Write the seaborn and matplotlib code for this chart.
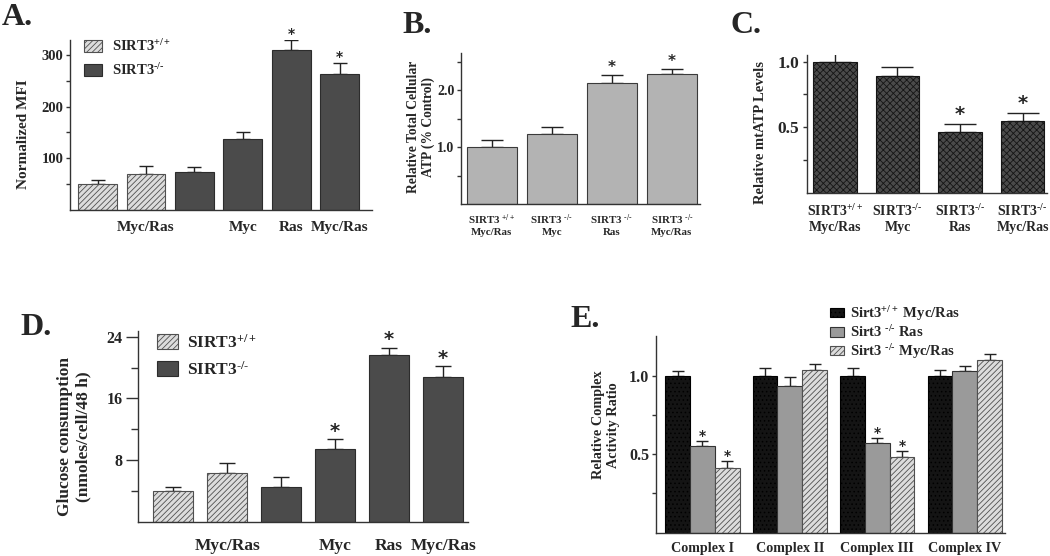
import matplotlib
matplotlib.use("Agg")
import matplotlib.pyplot as plt
import numpy as np
import pandas as pd
import seaborn as sns
from matplotlib.patches import Patch

HY = "\u2010"  # hyphen glyph for superscripts

# ---------------- data ----------------
# Panel A: Normalized MFI
a_groups = ["SIRT3+/+", "SIRT3+/+", "SIRT3-/-", "SIRT3-/-", "SIRT3-/-", "SIRT3-/-"]
a_ticklabels = ["", "Myc/Ras", "", "Myc", "Ras", "Myc/Ras"]
a_values = [50, 70, 73, 138, 311, 264]
a_errors = [7, 14, 10, 13, 19, 22]
a_signif = [False, False, False, False, True, True]
a_yticks = [100, 200, 300]
a_yticklabels = ["100", "200", "300"]

# Panel B: Relative total cellular ATP
b_ticklabels = ["SIRT3 $^{+/+}$\nMyc/Ras", f"SIRT3 $^{{{HY}/{HY}}}$\nMyc",
                f"SIRT3 $^{{{HY}/{HY}}}$\nRas", f"SIRT3 $^{{{HY}/{HY}}}$\nMyc/Ras"]
b_values = [1.00, 1.23, 2.13, 2.29]
b_errors = [0.13, 0.12, 0.14, 0.08]
b_signif = [False, False, True, True]
b_yticks = [1.0, 2.0]
b_yticklabels = ["1.0", "2.0"]

# Panel C: Relative mtATP levels
c_ticklabels = ["SIRT3$^{+/+}$\nMyc/Ras", f"SIRT3$^{{{HY}/{HY}}}$\nMyc",
                f"SIRT3$^{{{HY}/{HY}}}$\nRas", f"SIRT3$^{{{HY}/{HY}}}$\nMyc/Ras"]
c_values = [1.00, 0.89, 0.467, 0.55]
c_errors = [0.07, 0.07, 0.058, 0.06]
c_signif = [False, False, True, True]
c_yticks = [0.5, 1.0]
c_yticklabels = ["0.5", "1.0"]

# Panel D: Glucose consumption
d_groups = ["SIRT3+/+", "SIRT3+/+", "SIRT3-/-", "SIRT3-/-", "SIRT3-/-", "SIRT3-/-"]
d_ticklabels = ["", "Myc/Ras", "", "Myc", "Ras", "Myc/Ras"]
d_values = [4.0, 6.35, 4.53, 9.47, 21.65, 18.8]
d_errors = [0.5, 1.2, 1.2, 1.25, 0.95, 1.4]
d_signif = [False, False, False, True, True, True]
d_yticks = [8, 16, 24]
d_yticklabels = ["8", "16", "24"]

# Panel E: Relative complex activity ratio
e_complexes = ["Complex I", "Complex II", "Complex III", "Complex IV"]
e_series = ["Sirt3$^{+/+}$ Myc/Ras", f"Sirt3 $^{{{HY}/{HY}}}$ Ras", f"Sirt3 $^{{{HY}/{HY}}}$ Myc/Ras"]
e_wt = [1.0, 1.0, 1.0, 1.0]
e_wt_err = [0.03, 0.047, 0.05, 0.04]
e_ras = [0.553, 0.934, 0.574, 1.029]
e_ras_err = [0.03, 0.056, 0.026, 0.031]
e_mycras = [0.41, 1.036, 0.483, 1.104]
e_mycras_err = [0.045, 0.038, 0.037, 0.034]
e_wt_signif = [False, False, False, False]
e_ras_signif = [True, False, True, False]
e_mycras_signif = [True, False, True, False]
e_yticks = [0.5, 1.0]
e_yticklabels = ["0.5", "1.0"]

legend_labels_ad = ["SIRT3$^{+/+}$", f"SIRT3$^{{{HY}/{HY}}}$"]

# ---------------- style ----------------
sns.set_style("ticks")
plt.rcParams["font.family"] = ["Liberation Serif", "DejaVu Serif"]
plt.rcParams["font.weight"] = "bold"
plt.rcParams["mathtext.fontset"] = "custom"
plt.rcParams["mathtext.rm"] = "Liberation Serif:bold"
plt.rcParams["mathtext.bf"] = "Liberation Serif:bold"
plt.rcParams["mathtext.it"] = "Liberation Serif:bold"
plt.rcParams["mathtext.default"] = "bf"
plt.rcParams["hatch.linewidth"] = 0.6
plt.rcParams["axes.edgecolor"] = "#333333"

W, H = 1050, 556
fig = plt.figure(figsize=(W / 100, H / 100), dpi=100)


def rect(l, t, r, b):
    return [l / W, 1 - b / H, (r - l) / W, (b - t) / H]


STY = {
    "wt": dict(face="#dcdcdc", edge="#505050", hatch="//////", hc="#6e6e6e"),
    "ko": dict(face="#4b4b4b", edge="#2c2c2c", hatch=None, hc=None),
    "b": dict(face="#b3b3b3", edge="#3a3a3a", hatch=None, hc=None),
    "c": dict(face="#4a4a4a", edge="#151515", hatch="xxxxx", hc="#151515"),
    "e0": dict(face="#141414", edge="#000000", hatch="....", hc="#8a8a8a"),
    "e1": dict(face="#9a9a9a", edge="#333333", hatch=None, hc=None),
}


def style_patch(p, key, lw=0.8):
    s = STY[key]
    p.set_facecolor(s["face"])
    p.set_edgecolor(s["edge"])
    p.set_linewidth(lw)
    if s["hatch"]:
        p.set_hatch(s["hatch"])
        if s["hc"] and hasattr(p, "set_hatchcolor"):
            p.set_hatchcolor(s["hc"])


def legend_handle(key):
    s = STY[key]
    h = Patch(facecolor=s["face"], edgecolor=s["edge"], hatch=s["hatch"], linewidth=0.8)
    if s["hatch"] and s["hc"] and hasattr(h, "set_hatchcolor"):
        h.set_hatchcolor(s["hc"])
    return h


def simple_bars(ax, keys, values, width):
    df = pd.DataFrame({"key": keys, "value": values})
    sns.barplot(data=df, x="key", y="value", hue="key", order=keys, hue_order=keys,
                palette=["#888888"] * len(keys), legend=False, width=width,
                errorbar=None, saturation=1, ax=ax)
    return sorted(ax.patches, key=lambda p: p.get_x())


def draw_err(ax, patches, errs, capsize, lw=1.0):
    xs = [p.get_x() + p.get_width() / 2 for p in patches]
    tops = [p.get_height() for p in patches]
    ax.errorbar(xs, tops, yerr=[np.zeros(len(errs)), errs], fmt="none", ecolor="#222222",
                elinewidth=lw, capsize=capsize, capthick=lw, zorder=0.9)


def draw_stars(ax, patches, errs, flags, d_px, fs):
    for p, e, f in zip(patches, errs, flags):
        if f:
            x = p.get_x() + p.get_width() / 2
            y = p.get_height() + e
            ax.annotate("*", (x, y), xytext=(0, d_px - 0.5 * fs * 100 / 72),
                        textcoords="offset pixels", ha="center", va="baseline",
                        fontsize=fs, fontweight="bold", annotation_clip=False,
                        family=["DejaVu Sans"])


def style_axis(ax, xlim, ylim, yticks, yticklabels, minors, xticklabels, tick_fs,
               xlab_fs, xpad, maj_len, min_len, ypad):
    ax.set_xlim(xlim)
    ax.set_ylim(ylim)
    ax.set_yticks(yticks)
    ax.set_yticklabels(yticklabels, fontsize=tick_fs, fontweight="bold")
    ax.set_yticks(minors, minor=True)
    ax.set_xticks(range(len(xticklabels)))
    ax.set_xticklabels(xticklabels, fontsize=xlab_fs, fontweight="bold")
    ax.tick_params(axis="x", length=0, pad=xpad)
    ax.tick_params(axis="y", which="major", length=maj_len, width=1, pad=ypad,
                   color="#333333", direction="out")
    ax.tick_params(axis="y", which="minor", length=min_len, width=1,
                   color="#333333", direction="out")
    ax.set_xlabel("")
    ax.set_ylabel("")
    sns.despine(ax=ax)
    for sp in ("left", "bottom"):
        ax.spines[sp].set_linewidth(1.0)
        ax.spines[sp].set_color("#333333")


def flabel(x, y, s, fs=23):
    fig.text(x / W, 1 - y / H, s, fontsize=fs, fontweight="bold", ha="left", va="baseline")


def ylab(x, y, s, fs):
    fig.text(x / W, 1 - y / H, s, fontsize=fs, fontweight="bold", rotation=90,
             ha="center", va="center", multialignment="center", linespacing=1.15)


# ---------------- Panel A ----------------
axA = fig.add_axes(rect(70, 40, 372, 209.5))
a_keys = [f"{g} {i}" for i, g in enumerate(a_groups)]
pa = simple_bars(axA, a_keys, a_values, 0.8)
for p, g in zip(pa, a_groups):
    style_patch(p, "wt" if g == "SIRT3+/+" else "ko")
draw_err(axA, pa, a_errors, capsize=5)
draw_stars(axA, pa, a_errors, a_signif, 9, 10)
style_axis(axA, (-0.57, 5.67), (0, 330), a_yticks, a_yticklabels, [50, 150, 250],
           a_ticklabels, 10.5, 11, 8, 3.2, 3.2, 1.5)
axA.legend(handles=[legend_handle("wt"), legend_handle("ko")],
           labels=legend_labels_ad,
           loc="upper left", bbox_to_anchor=(84 / W, 1 - 38 / H), bbox_transform=fig.transFigure,
           frameon=False, fontsize=10.5, borderpad=0, borderaxespad=0,
           handlelength=1.23, handleheight=0.9, handletextpad=0.68, labelspacing=0.55)
flabel(2, 25, "A.")
ylab(24, 134, "Normalized MFI", 11)

# ---------------- Panel B ----------------
axB = fig.add_axes(rect(461, 53, 700, 204))
pb = simple_bars(axB, b_ticklabels, b_values, 0.83)
for p in pb:
    style_patch(p, "b")
draw_err(axB, pb, b_errors, capsize=8)
draw_stars(axB, pb, b_errors, b_signif, 11, 11)
style_axis(axB, (-0.51, 3.47), (0, 2.66), b_yticks, b_yticklabels, [0.5, 1.5, 2.5],
           b_ticklabels, 10, 7.8, 6, 3.2, 3.2, 1.5)
flabel(402, 33, "B.")
ylab(421, 127, "Relative Total Cellular\nATP (% Control)", 9.8)

# ---------------- Panel C ----------------
axC = fig.add_axes(rect(806.7, 55, 1047, 193))
pc = simple_bars(axC, c_ticklabels, c_values, 0.7)
for p in pc:
    style_patch(p, "c")
draw_err(axC, pc, c_errors, capsize=11.5)
draw_stars(axC, pc, c_errors, c_signif, 14, 14)
style_axis(axC, (-0.45, 3.39), (0, 1.05), c_yticks, c_yticklabels, [0.25, 0.75],
           c_ticklabels, 12.5, 10, 7, 3.2, 3.2, 2)
flabel(730, 33, "C.")
ylab(761, 132, "Relative mtATP Levels", 10.5)

# ---------------- Panel D ----------------
axD = fig.add_axes(rect(138, 330.7, 468, 521.5))
d_keys = [f"{g} {i}" for i, g in enumerate(d_groups)]
pd_ = simple_bars(axD, d_keys, d_values, 0.74)
for p, g in zip(pd_, d_groups):
    style_patch(p, "wt" if g == "SIRT3+/+" else "ko")
draw_err(axD, pd_, d_errors, capsize=5.8)
draw_stars(axD, pd_, d_errors, d_signif, 12, 14)
style_axis(axD, (-0.65, 5.46), (0, 24.8), d_yticks, d_yticklabels, [4, 12, 20],
           d_ticklabels, 11.5, 12.5, 12, 9, 5, 2)
axD.legend(handles=[legend_handle("wt"), legend_handle("ko")],
           labels=legend_labels_ad,
           loc="upper left", bbox_to_anchor=(157 / W, 1 - 334 / H), bbox_transform=fig.transFigure,
           frameon=False, fontsize=12.5, borderpad=0, borderaxespad=0,
           handlelength=1.2, handleheight=0.95, handletextpad=0.52, labelspacing=0.5)
flabel(20, 335, "D.")
ylab(74, 437, "Glucose consumption\n(nmoles/cell/48 h)", 12.5)

# ---------------- Panel E ----------------
axE = fig.add_axes(rect(656, 336, 1005, 532.5))
e_rows = []
for i, c in enumerate(e_complexes):
    e_rows.append((c, e_series[0], e_wt[i]))
    e_rows.append((c, e_series[1], e_ras[i]))
    e_rows.append((c, e_series[2], e_mycras[i]))
df_e = pd.DataFrame(e_rows, columns=["complex", "series", "value"])
sns.barplot(data=df_e, x="complex", y="value", hue="series", order=e_complexes,
            hue_order=e_series, palette=["#888888"] * 3, width=0.85, errorbar=None,
            saturation=1, legend=False, ax=axE)
pe = sorted(axE.patches, key=lambda p: p.get_x())
e_err_flat, e_sig_flat = [], []
for i in range(len(e_complexes)):
    e_err_flat += [e_wt_err[i], e_ras_err[i], e_mycras_err[i]]
    e_sig_flat += [e_wt_signif[i], e_ras_signif[i], e_mycras_signif[i]]
for j, p in enumerate(pe):
    style_patch(p, ["e0", "e1", "wt"][j % 3])
draw_err(axE, pe, e_err_flat, capsize=4.3)
draw_stars(axE, pe, e_err_flat, e_sig_flat, 8, 10)
style_axis(axE, (-0.53, 3.46), (0, 1.254), e_yticks, e_yticklabels, [0.25, 0.75],
           e_complexes, 11.5, 10.2, 7, 3, 3, 2)
axE.legend(handles=[legend_handle("e0"), legend_handle("e1"), legend_handle("wt")],
           labels=e_series, loc="upper left", bbox_to_anchor=(830 / W, 1 - 304 / H),
           bbox_transform=fig.transFigure, frameon=False, fontsize=10.5, borderpad=0,
           borderaxespad=0, handlelength=0.96, handleheight=0.62, handletextpad=0.4,
           labelspacing=0.1)
flabel(570, 327, "E.")
ylab(606, 425, "Relative Complex\nActivity Ratio", 10.3)

fig.savefig("out.png", dpi=100)
